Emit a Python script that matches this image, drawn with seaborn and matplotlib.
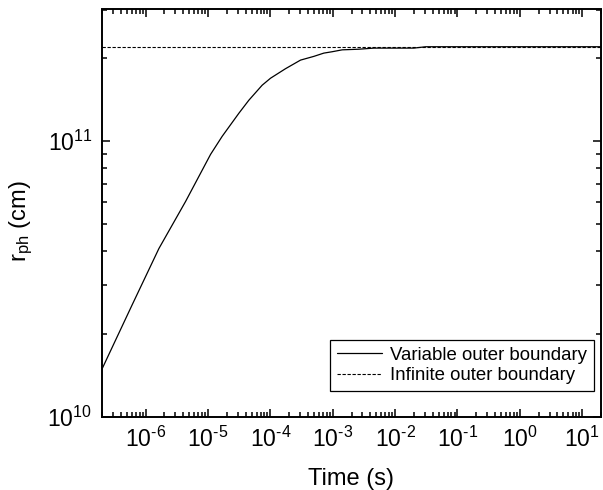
import numpy as np
import pandas as pd
import matplotlib
matplotlib.use("Agg")
import matplotlib.pyplot as plt
import seaborn as sns
from matplotlib.ticker import LogLocator, NullFormatter

# ---- data ----
t_var = [2.0e-7, 6.10e-7, 1.633e-6, 4.375e-6, 1.101e-5, 1.689e-5, 3.127e-5, 4.52e-5,
         7.39e-5, 1.007e-4, 1.752e-4, 3.048e-4, 4.98e-4, 7.19e-4, 9.77e-4, 1.42e-3,
         2.61e-3, 4.57e-3, 2.0e-2, 3.1e-2, 20.0]
r_var = [1.489e10, 2.548e10, 4.073e10, 6.036e10, 8.946e10, 1.040e11, 1.261e11, 1.406e11,
         1.594e11, 1.690e11, 1.830e11, 1.966e11, 2.028e11, 2.084e11, 2.108e11, 2.142e11,
         2.153e11, 2.173e11, 2.173e11, 2.198e11, 2.198e11]
t_inf = [2e-7, 20.0]
r_inf = [2.19e11, 2.19e11]
series_names = ["Variable outer boundary", "Infinite outer boundary"]
x_ticks = [1e-6, 1e-5, 1e-4, 1e-3, 1e-2, 1e-1, 1e0, 1e1]
x_tick_labels = [r"$10^{\text{-6}}$", r"$10^{\text{-5}}$", r"$10^{\text{-4}}$", r"$10^{\text{-3}}$",
                 r"$10^{\text{-2}}$", r"$10^{\text{-1}}$", r"$10^{0}$", r"$10^{1}$"]
y_ticks = [1e10, 1e11]
y_tick_labels = [r"$10^{10}$", r"$10^{11}$"]

sns.set_theme(style="ticks")
plt.rcParams["font.family"] = ["Liberation Sans", "DejaVu Sans"]
plt.rcParams["mathtext.fontset"] = "custom"
plt.rcParams["mathtext.rm"] = "Liberation Sans"
plt.rcParams["mathtext.it"] = "Liberation Sans:italic"
plt.rcParams["mathtext.sf"] = "Liberation Sans"
for k in ["text.color", "axes.labelcolor", "xtick.color", "ytick.color", "axes.edgecolor"]:
    plt.rcParams[k] = "black"

df_var = pd.DataFrame({"t": t_var, "r": r_var})
df_inf = pd.DataFrame({"t": t_inf, "r": r_inf})

fig = plt.figure(figsize=(6.03, 4.90), dpi=100)
ax = fig.add_axes([102/603, 1-416.7/490, (601-102)/603, (416.7-9.5)/490])

sns.lineplot(data=df_var, x="t", y="r", ax=ax, color="black", lw=0.9,
             label=series_names[0], sort=False)
sns.lineplot(data=df_inf, x="t", y="r", ax=ax, color="black", lw=0.8,
             linestyle=(0, (3, 1.5)), label=series_names[1])

ax.set_xscale("log")
ax.set_yscale("log")
ax.set_xlim(2e-7, 20)
ax.set_ylim(1e10, 3e11)

ax.set_xticks(x_ticks)
ax.set_xticklabels(x_tick_labels)
ax.xaxis.set_minor_locator(LogLocator(base=10, subs=np.arange(2, 10), numticks=50))
ax.xaxis.set_minor_formatter(NullFormatter())
ax.set_yticks(y_ticks)
ax.set_yticklabels(y_tick_labels)
ax.yaxis.set_minor_locator(LogLocator(base=10, subs=np.arange(2, 10), numticks=50))
ax.yaxis.set_minor_formatter(NullFormatter())

ax.tick_params(which="both", direction="in", top=True, right=True, width=1.1, color="black")
ax.tick_params(which="major", length=6, labelsize=16.5)
ax.tick_params(axis="x", which="major", pad=7)
ax.tick_params(axis="y", which="major", pad=7)
ax.tick_params(which="minor", length=3.3)
for s in ax.spines.values():
    s.set_linewidth(1.4)
    s.set_color("black")

ax.set_xlabel("Time (s)", fontsize=17)
ax.xaxis.set_label_coords(0.5, -0.125)
ax.set_ylabel(r"r$_{\rm ph}$ (cm)", fontsize=17)
ax.yaxis.set_label_coords(-0.135, 0.48)

leg = ax.legend(loc="lower right", bbox_to_anchor=(1.0, 0.045), fontsize=13.4,
                frameon=True, fancybox=False, edgecolor="black", framealpha=1,
                handlelength=2.4, handletextpad=0.45, borderpad=0.35, labelspacing=0.2,
                borderaxespad=0.4)
leg.get_frame().set_linewidth(0.9)

fig.savefig("out.png", dpi=100)
